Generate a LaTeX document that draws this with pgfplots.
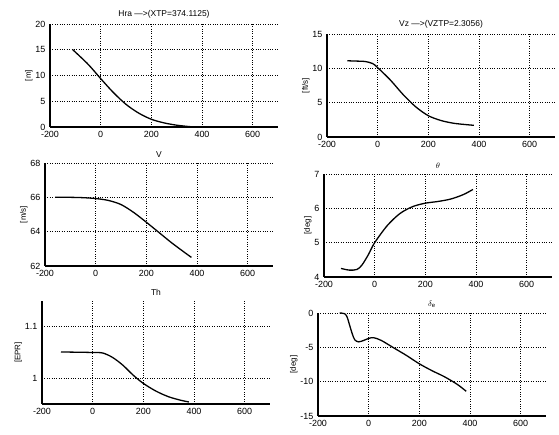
\documentclass[border=0pt]{standalone}
\usepackage{pgfplots}
\pgfplotsset{compat=1.18}
\usepackage{fontspec}
\setmainfont{Liberation Sans}
\pgfplotsset{
  mstyle/.style={
    scale only axis, width=228bp, height=103bp, anchor=south west,
    xmin=-200, xmax=700, xtick={-200,0,200,400,600},
    grid=major, grid style={dotted, black, line width=0.7pt},
    axis lines=left, axis line style={-, line width=1.1pt, black},
    tick style={draw=none},
    tick label style={font=\fontsize{9}{10}\selectfont},
    /pgf/number format/assume math mode=true,
    title style={font=\fontsize{8.5}{10}\selectfont, yshift=-4pt},
    ylabel style={font=\fontsize{8}{9}\selectfont, yshift=-4pt},
    xticklabel style={yshift=1pt},
    yticklabel style={xshift=1pt},
  },
  cv/.style={black, line width=1.3pt, smooth, mark=none},
}
\begin{document}
\begin{tikzpicture}
\useasboundingbox (0,0) rectangle (559bp,435bp);
% top left
\begin{axis}[mstyle, at={(50bp,308bp)}, ymin=0, ymax=20, ytick={0,5,10,15,20},
  title={Hra —>(XTP=374.1125)}, ylabel={[m]}]
\addplot[cv] coordinates {(-110,15) (-50,12.2) (0,9.4) (50,6.7) (100,4.4) (150,2.7) (200,1.5) (250,0.8) (300,0.35) (350,0.08) (374,0)};
\end{axis}
% top right
\begin{axis}[mstyle, at={(327bp,298bp)}, ymin=0, ymax=15, ytick={0,5,10,15},
  title={Vz —>(VZTP=2.3056)}, ylabel={[ft/s]}]
\addplot[cv] coordinates {(-120,11.1) (-80,11.05) (-50,11.0) (-20,10.7) (0,10.1) (50,8.3) (100,6.2) (150,4.4) (200,3.1) (250,2.4) (300,2.0) (350,1.8) (380,1.7)};
\end{axis}
% middle left
\begin{axis}[mstyle, at={(45bp,169bp)}, ymin=62, ymax=68, ytick={62,64,66,68},
  title={V}, ylabel={[m/s]}]
\addplot[cv] coordinates {(-160,66) (-100,66) (-50,65.98) (0,65.93) (50,65.82) (100,65.58) (150,65.12) (200,64.55) (250,63.95) (300,63.35) (350,62.8) (378,62.5)};
\end{axis}
% middle right
\begin{axis}[mstyle, at={(324bp,158bp)}, ymin=4, ymax=7, ytick={4,5,6,7},
  title={$\theta$}, ylabel={[deg]}]
\addplot[cv] coordinates {(-133,4.25) (-100,4.2) (-70,4.22) (-50,4.35) (-25,4.65) (0,5.0) (50,5.5) (100,5.85) (150,6.05) (200,6.15) (250,6.2) (300,6.27) (350,6.4) (388,6.55)};
\end{axis}
% bottom left
\begin{axis}[mstyle, at={(42bp,31bp)}, ymin=0.95, ymax=1.15, ytick={1,1.1},
  title={Th}, ylabel={[EPR]}, yticklabel style={/pgf/number format/fixed}]
\addplot[cv] coordinates {(-125,1.051) (-50,1.0505) (0,1.05) (40,1.049) (80,1.04) (120,1.025) (160,1.006) (200,0.99) (250,0.975) (300,0.964) (350,0.957) (380,0.954)};
\end{axis}
% bottom right
\begin{axis}[mstyle, at={(318bp,19bp)}, ymin=-15, ymax=0, ytick={-15,-10,-5,0},
  title={$\delta_{\mathrm{e}}$}, ylabel={[deg]}]
\addplot[cv] coordinates {(-115,0) (-95,-0.1) (-85,-0.6) (-75,-1.8) (-65,-3.0) (-55,-3.9) (-40,-4.2) (-20,-4.0) (0,-3.7) (20,-3.6) (50,-4.0) (100,-5.1) (150,-6.2) (200,-7.4) (250,-8.4) (300,-9.3) (350,-10.4) (385,-11.4)};
\end{axis}
\end{tikzpicture}
\end{document}
